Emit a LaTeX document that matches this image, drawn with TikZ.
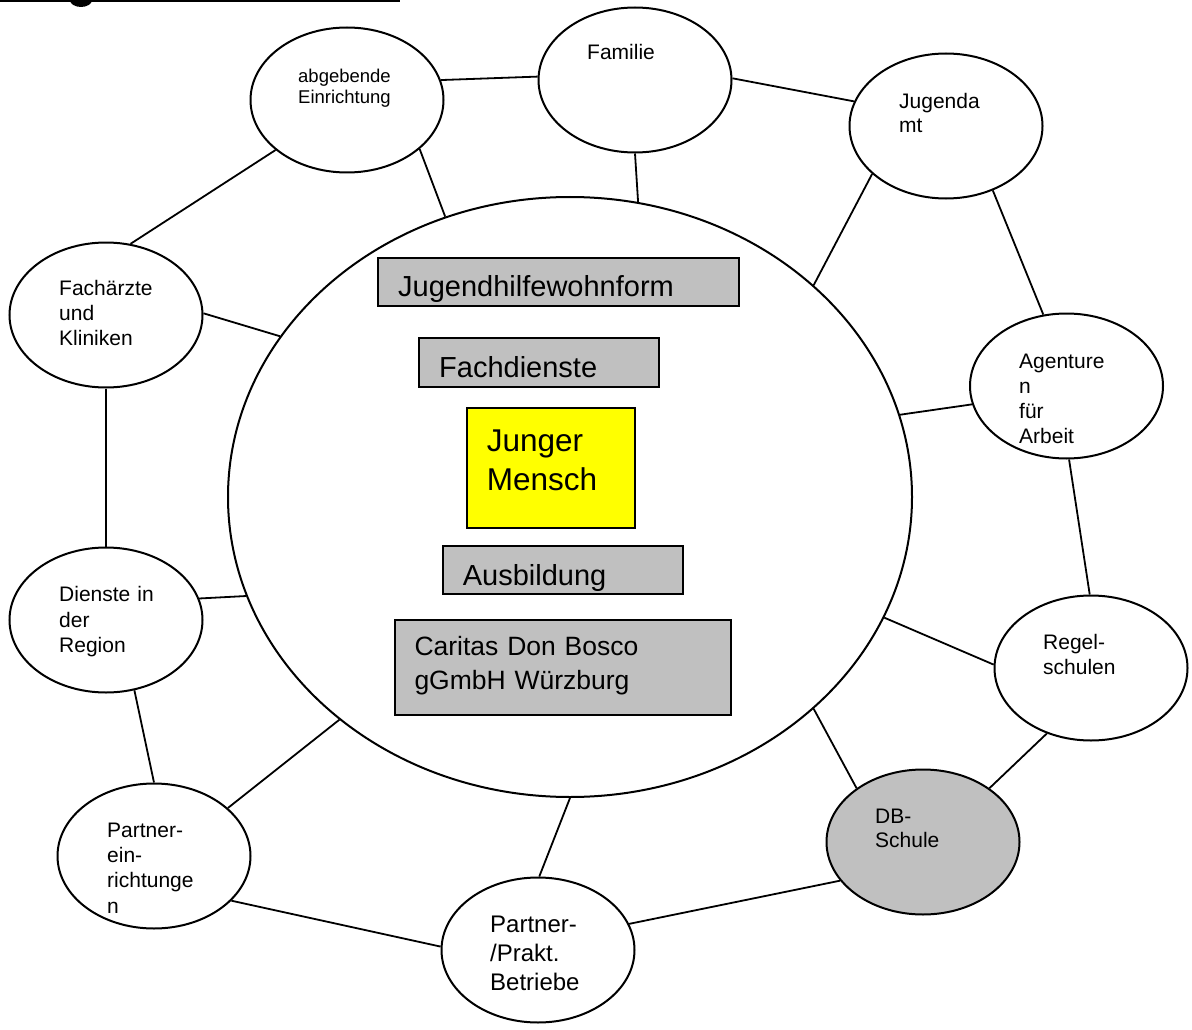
\documentclass[tikz,border=0pt]{standalone}
\usepackage{fontspec}
\setmainfont{Liberation Sans}
\usetikzlibrary{shapes.geometric}
\definecolor{boxgray}{HTML}{C0C0C0}
\definecolor{jmyellow}{HTML}{FFFF00}
\tikzset{
  oval/.style={ellipse, draw, line width=2pt, minimum width=193pt, minimum height=145pt, inner sep=0pt, fill=white},
  bigoval/.style={ellipse, draw, line width=2pt, minimum width=684pt, minimum height=600pt, inner sep=0pt},
  lbl/.style={anchor=base west, inner sep=0pt, align=left, text width=150pt, font=\fontsize{21}{25.3}\selectfont},
  boxlbl/.style={anchor=base west, inner sep=0pt, align=left, text width=340pt},
  box/.style={rectangle, draw, line width=2.3pt, fill=boxgray, inner sep=0pt},
  conn/.style={line width=1.8pt},
}
\begin{document}
\begin{tikzpicture}[x=1pt, y=-1pt]
\useasboundingbox (0,0) rectangle (1192,1030);
\fill[white] (0,0) rectangle (1192,1030);
% cut-off heading remnant
\fill[black] (0,0) rectangle (400,2.5);
\fill[black] (70,0) arc[start angle=180, end angle=0, x radius=11, y radius=7] -- cycle;

% central circle
\node[bigoval] (C) at (570,497) {};

% boxes
\node[box, minimum width=361pt, minimum height=48pt] (jh) at (558.5,282) {};
\node[box, minimum width=240pt, minimum height=49pt] (fd) at (539,362.5) {};
\node[box, fill=jmyellow, minimum width=168pt, minimum height=120pt] (jm) at (551,468) {};
\node[box, minimum width=240pt, minimum height=48pt] (au) at (563,570) {};
\node[box, minimum width=336pt, minimum height=95pt] (cdb) at (563,667.5) {};

% outer ellipses
\node[oval] (abg) at (347,100) {};
\node[oval] (fam) at (635,80) {};
\node[oval] (jug) at (946,126) {};
\node[oval] (fach) at (106,315) {};
\node[oval] (agt) at (1066.5,386) {};
\node[oval] (dien) at (106,620) {};
\node[oval] (regel) at (1091,668) {};
\node[oval, fill=boxgray] (db) at (923,842) {};
\node[oval] (pein) at (154,856) {};
\node[oval] (prakt) at (538,950) {};

% connectors
\draw[conn] (abg.12.9) -- (fam.178.8);
\draw[conn] (fam.south) -- (C.77.8);
\draw[conn] (fam.1.2) -- (jug.165.7);
\draw[conn] (abg.215.6) -- (fach.71.6);
\draw[conn] (abg.-34.4) -- (C.114.8);
\draw[conn] (jug.213.9) -- (C.41.4);
\draw[conn] (jug.-54.6) -- (agt.108.9);
\draw[conn] (agt.191.3) -- (C.14);
\draw[conn] (agt.-88) -- (regel.91);
\draw[conn] (regel.178.2) -- (C.-21.9);
\draw[conn] (regel.-124.8) -- (db.39.3);
\draw[conn] (db.141.6) -- (C.-41.5);
\draw[conn] (db.205.7) -- (prakt.16.1);
\draw[conn] (prakt.89) -- (C.-90);
\draw[conn] (prakt.178.8) -- (pein.-30.1);
\draw[conn] (pein.33) -- (C.224.1);
\draw[conn] (pein.90.8) -- (dien.-68.3);
\draw[conn] (dien.13.3) -- (C.197.4);
\draw[conn] (fach.south) -- (dien.north);
\draw[conn] (fach.1.2) -- (C.151.7);

% ellipse labels
\node[lbl] (tfam) at (587,60) {Familie};
\node[lbl, font=\fontsize{18.5}{21}\selectfont] (tabg) at (298,83) {abgebende\\Einrichtung};
\node[lbl, font=\fontsize{21}{24.5}\selectfont] (tjug) at (899,108.3) {Jugenda\\mt};
\node[lbl] (tfach) at (59,295) {Fachärzte\\und\\Kliniken};
\node[lbl, font=\fontsize{21}{25}\selectfont] (tagt) at (1019,368.3) {Agenture\\n\\für\\Arbeit};
\node[lbl] (tdien) at (59,601.7) {Dienste in\\der\\Region};
\node[lbl] (tregel) at (1043,649.3) {Regel-\\schulen};
\node[lbl, font=\fontsize{21}{24}\selectfont] (tdb) at (875,823.3) {DB-\\Schule};
\node[lbl] (tpein) at (107,837.3) {Partner-\\ein-\\richtunge\\n};
\node[lbl, font=\fontsize{24}{29}\selectfont] (tprakt) at (490,932.7) {Partner-\\/Prakt.\\Betriebe};

% box labels
\node[boxlbl, font=\fontsize{29}{34}\selectfont] (tjh) at (398,296.8) {Jugendhilfewohnform};
\node[boxlbl, font=\fontsize{29}{34}\selectfont] (tfd) at (439,377.5) {Fachdienste};
\node[boxlbl, font=\fontsize{31.5}{39}\selectfont] (tjm) at (486.7,451.5) {Junger\\Mensch};
\node[boxlbl, font=\fontsize{29}{34}\selectfont] (tau) at (462.7,585.8) {Ausbildung};
\node[boxlbl, font=\fontsize{26.5}{33.3}\selectfont] (tcdb) at (414.3,655.7) {Caritas Don Bosco\\gGmbH Würzburg};
\end{tikzpicture}
\end{document}
